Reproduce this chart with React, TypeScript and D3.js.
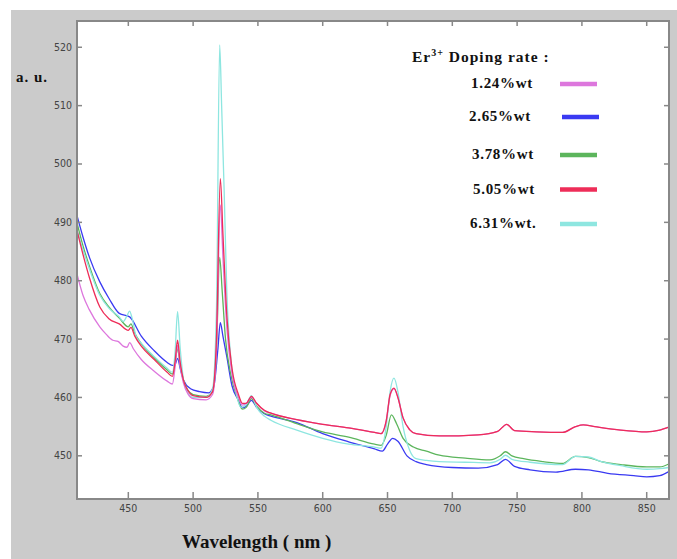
import React, { useEffect, useRef } from 'react';
import * as d3 from 'd3';

// tick values
const xTicks = [450, 500, 550, 600, 650, 700, 750, 800, 850];
const yTicks = [450, 460, 470, 480, 490, 500, 510, 520];

// series: [wavelength nm, intensity a.u.]
const violet = [
  [410, 481.5], [415, 477.5], [420, 475], [428, 472.1], [433, 470.8], [438, 469.8],
  [442, 469.6], [446, 468.8], [449, 468.6], [451, 469.4], [454, 468.3], [460, 466.5], [470, 464.5],
  [480, 462.8], [484, 462.3], [486, 465], [488, 468.9], [490, 465.3], [492.5, 462.5], [496, 460.6],
  [500, 459.8], [510, 459.6], [515, 460.5], [518, 468], [521, 493], [523, 484], [526, 472],
  [530, 464], [535, 460], [538, 458.7], [541, 459], [545, 460], [549, 459], [555, 457.7],
  [560, 457.3], [580, 456.2], [600, 455.4], [620, 454.8], [640, 454], [645, 453.8], [649, 456],
  [652, 460.3], [655, 461.5], [658, 460], [662, 456.5], [667, 454.5], [672, 453.8], [690, 453.4],
  [720, 453.6], [735, 454.2], [742, 455.4], [748, 454.3], [765, 454.1], [785, 454], [795, 455],
  [801, 455.3], [810, 455], [830, 454.4], [850, 454.1], [860, 454.4], [867, 454.9],
];
const blue = [
  [410, 491.5], [415, 487.5], [420, 484], [428, 479.8], [435, 477], [443, 474.4], [451, 473.8],
  [460, 470.5], [470, 468], [480, 466], [484, 465.5], [486, 465.6], [488, 466.7], [490, 465],
  [492.5, 463], [498, 461.5], [505, 461], [512, 460.8], [516, 462], [519, 468], [521, 472.8],
  [523, 470.5], [526, 467], [530, 462], [535, 459.5], [538, 458.2], [541, 458.5], [545, 459.5],
  [549, 458.3], [555, 457.2], [560, 456.8], [580, 455.7], [600, 453.8], [620, 452.4], [640, 451.2],
  [646, 450.8], [650, 452], [654, 453], [658, 452.5], [665, 450], [672, 449], [680, 448.5],
  [700, 448], [720, 447.9], [735, 448.5], [741, 449.4], [748, 448.2], [760, 447.6], [780, 447.2],
  [795, 447.7], [805, 447.6], [820, 447], [840, 446.6], [850, 446.4], [860, 446.6], [867, 447.3],
];
const green = [
  [410, 490.3], [415, 486], [420, 482.5], [428, 477.8], [435, 475.5], [443, 473.6], [450, 472.1],
  [452, 472.6], [455, 471], [460, 469.2], [470, 466.8], [480, 464.7], [484, 464], [486, 465.8],
  [488, 468.4], [490, 465.5], [492.5, 463], [496, 461.2], [500, 460.5], [510, 460.2], [515, 461],
  [518, 468], [520.5, 484], [522.5, 478], [525, 470], [529, 464], [534, 460], [538, 458],
  [541, 458.3], [545, 459.8], [549, 458.5], [555, 457.3], [560, 457], [580, 455.5], [600, 454.1],
  [620, 453.2], [640, 452], [645, 451.8], [649, 453.5], [653, 457], [657, 455.5], [662, 453],
  [670, 451.5], [680, 450.8], [690, 450.1], [710, 449.6], [729, 449.3], [737, 450], [741, 450.7],
  [746, 450], [755, 449.5], [770, 449], [785, 448.7], [795, 449.9], [805, 449.7], [815, 449],
  [830, 448.5], [850, 448.1], [860, 448.1], [867, 448.6],
];
const red = [
  [410, 489], [415, 484.5], [420, 480.5], [428, 475.5], [435, 473.5], [443, 472.6], [450, 471.5],
  [452, 472], [455, 470.5], [460, 468.8], [470, 466.5], [480, 464.3], [484, 463.6], [486, 466],
  [488, 469.8], [490, 466], [492.5, 463], [496, 461.2], [500, 460.3], [510, 460], [515, 461],
  [518, 470], [521, 497.5], [523, 488], [526, 474], [530, 465], [535, 460.5], [538, 459],
  [541, 459], [545, 460.2], [549, 459], [555, 457.8], [560, 457.3], [580, 456.2], [600, 455.4],
  [620, 454.8], [640, 454], [645, 453.8], [649, 456], [652, 460.5], [655, 461.6], [658, 460],
  [662, 456.5], [667, 454.5], [672, 453.8], [690, 453.4], [720, 453.6], [735, 454.2], [742, 455.4],
  [748, 454.3], [765, 454.1], [785, 454], [795, 455], [801, 455.3], [810, 455], [830, 454.4],
  [850, 454.1], [860, 454.4], [867, 454.9],
];
const cyan = [
  [410, 489], [415, 485.3], [420, 482], [428, 477.5], [435, 475.3], [443, 473.8], [446, 473],
  [449, 474], [451, 474.8], [453, 473.5], [456, 470.5], [460, 469.3], [470, 467], [480, 465],
  [484, 464.3], [486, 467.5], [488, 474.7], [490, 468.5], [492.5, 463.2], [496, 460.8], [500, 460],
  [510, 460], [515, 461.5], [518, 475], [520.5, 520.4], [522, 510], [524, 495], [526, 478],
  [529, 467], [533, 461], [537, 458.3], [541, 458.8], [545, 460.3], [549, 458.3], [555, 456.8],
  [560, 456.1], [580, 454.4], [600, 453], [620, 452], [640, 451.5], [645, 451.3], [649, 455],
  [652, 461], [655, 463.3], [658, 461], [662, 455], [667, 451], [672, 449.5], [680, 449.2],
  [690, 449], [710, 448.9], [729, 448.8], [737, 449.4], [741, 450.1], [746, 449.4], [760, 448.9],
  [785, 448.5], [795, 449.9], [805, 449.8], [815, 449], [830, 448.3], [850, 447.7], [860, 447.8],
  [867, 448],
];

const seriesLabels = ['1.24%wt', '2.65%wt', '3.78%wt', '5.05%wt', '6.31%wt.'];
const seriesColors = ['#dd77dd', '#3a3af2', '#5cb55c', '#ee2d58', '#8ee6e0'];
const seriesData = [violet, blue, green, red, cyan];
const drawOrder = [1, 2, 4, 0, 3];

const W = 677;
const H = 559;
const left = 77;
const right = 669;
const top = 21;
const bottom = 499;

export default function App() {
  const ref = useRef<SVGSVGElement>(null);

  useEffect(() => {
    const svg = d3.select(ref.current);
    svg.selectAll('*').remove();

    const x = d3.scaleLinear().domain([410.4, 867.2]).range([left, right]);
    const y = d3.scaleLinear().domain([442.6, 524.5]).range([bottom, top]);

    svg.append('rect').attr('x', 11).attr('y', 10).attr('width', W - 11).attr('height', H - 10)
      .attr('fill', '#cbcbcb');
    svg.append('rect').attr('x', left).attr('y', top).attr('width', right - left)
      .attr('height', bottom - top).attr('fill', '#fff');

    svg.append('clipPath').attr('id', 'plotclip').append('rect')
      .attr('x', left).attr('y', top).attr('width', right - left).attr('height', bottom - top);

    const line = d3.line<number[]>()
      .x((d) => x(d[0]))
      .y((d) => y(d[1]))
      .curve(d3.curveMonotoneX);

    const g = svg.append('g').attr('clip-path', 'url(#plotclip)');
    drawOrder.forEach((i) => {
      g.append('path')
        .attr('d', line(seriesData[i]))
        .attr('fill', 'none')
        .attr('stroke', seriesColors[i])
        .attr('stroke-width', 1.3)
        .attr('stroke-linejoin', 'round');
    });

    // frame and inward ticks
    const frame = svg.append('g').attr('stroke', '#888').attr('fill', 'none');
    frame.append('rect').attr('x', left).attr('y', top).attr('width', right - left)
      .attr('height', bottom - top).attr('stroke-width', 2);
    xTicks.forEach((t) => {
      frame.append('line').attr('x1', x(t)).attr('x2', x(t)).attr('y1', bottom).attr('y2', bottom - 7)
        .attr('stroke-width', 1.5);
      frame.append('line').attr('x1', x(t)).attr('x2', x(t)).attr('y1', top).attr('y2', top + 5)
        .attr('stroke-width', 1.5);
    });
    yTicks.forEach((t) => {
      frame.append('line').attr('x1', left).attr('x2', left + 5).attr('y1', y(t)).attr('y2', y(t))
        .attr('stroke-width', 1.5);
      frame.append('line').attr('x1', right).attr('x2', right - 5).attr('y1', y(t)).attr('y2', y(t))
        .attr('stroke-width', 1.5);
    });

    const tickFont = "'Liberation Sans Narrow', 'Arial Narrow', 'DejaVu Sans Condensed', sans-serif";
    svg.append('g').selectAll('text').data(xTicks).enter().append('text')
      .attr('x', (d) => x(d)).attr('y', 512)
      .attr('text-anchor', 'middle')
      .attr('font-family', tickFont).attr('font-size', 10.5).attr('fill', '#444')
      .text((d) => d);
    svg.append('g').selectAll('text').data(yTicks).enter().append('text')
      .attr('x', 72).attr('y', (d) => y(d) + 3.5)
      .attr('text-anchor', 'end')
      .attr('font-family', tickFont).attr('font-size', 10.5).attr('fill', '#444')
      .text((d) => d);

    const serif = "'Liberation Serif', 'Times New Roman', serif";
    svg.append('text').attr('x', 16).attr('y', 82).attr('font-family', serif)
      .attr('font-weight', 'bold').attr('font-size', 15).attr('letter-spacing', 1)
      .attr('fill', '#111').text('a. u.');
    svg.append('text').attr('x', 182).attr('y', 548).attr('font-family', serif)
      .attr('font-weight', 'bold').attr('font-size', 19).attr('fill', '#111')
      .text('Wavelength ( nm )');

    // legend
    const title = svg.append('text').attr('x', 412).attr('y', 62).attr('font-family', serif)
      .attr('font-weight', 'bold').attr('font-size', 15.5).attr('letter-spacing', 1)
      .attr('fill', '#111');
    title.append('tspan').text('Er');
    title.append('tspan').attr('dy', -6).attr('font-size', 10).text('3+');
    title.append('tspan').attr('dy', 6).text(' Doping rate :');

    const legY = [84, 117, 155, 189.5, 224];
    const legTextX = [471, 469, 472, 473, 470];
    seriesLabels.forEach((lab, i) => {
      svg.append('text').attr('x', legTextX[i]).attr('y', legY[i] + 4)
        .attr('font-family', serif).attr('font-weight', 'bold').attr('font-size', 15)
        .attr('letter-spacing', 0.7).attr('fill', '#111').text(lab);
      svg.append('line').attr('x1', i === 1 ? 562 : 560).attr('x2', i === 1 ? 599 : 597)
        .attr('y1', legY[i]).attr('y2', legY[i])
        .attr('stroke', seriesColors[i]).attr('stroke-width', 4.5);
    });
  }, []);

  return (
    <svg
      ref={ref}
      width={W}
      height={H}
      style={{ position: 'absolute', left: 0, top: 0, background: '#fff' }}
    />
  );
}
